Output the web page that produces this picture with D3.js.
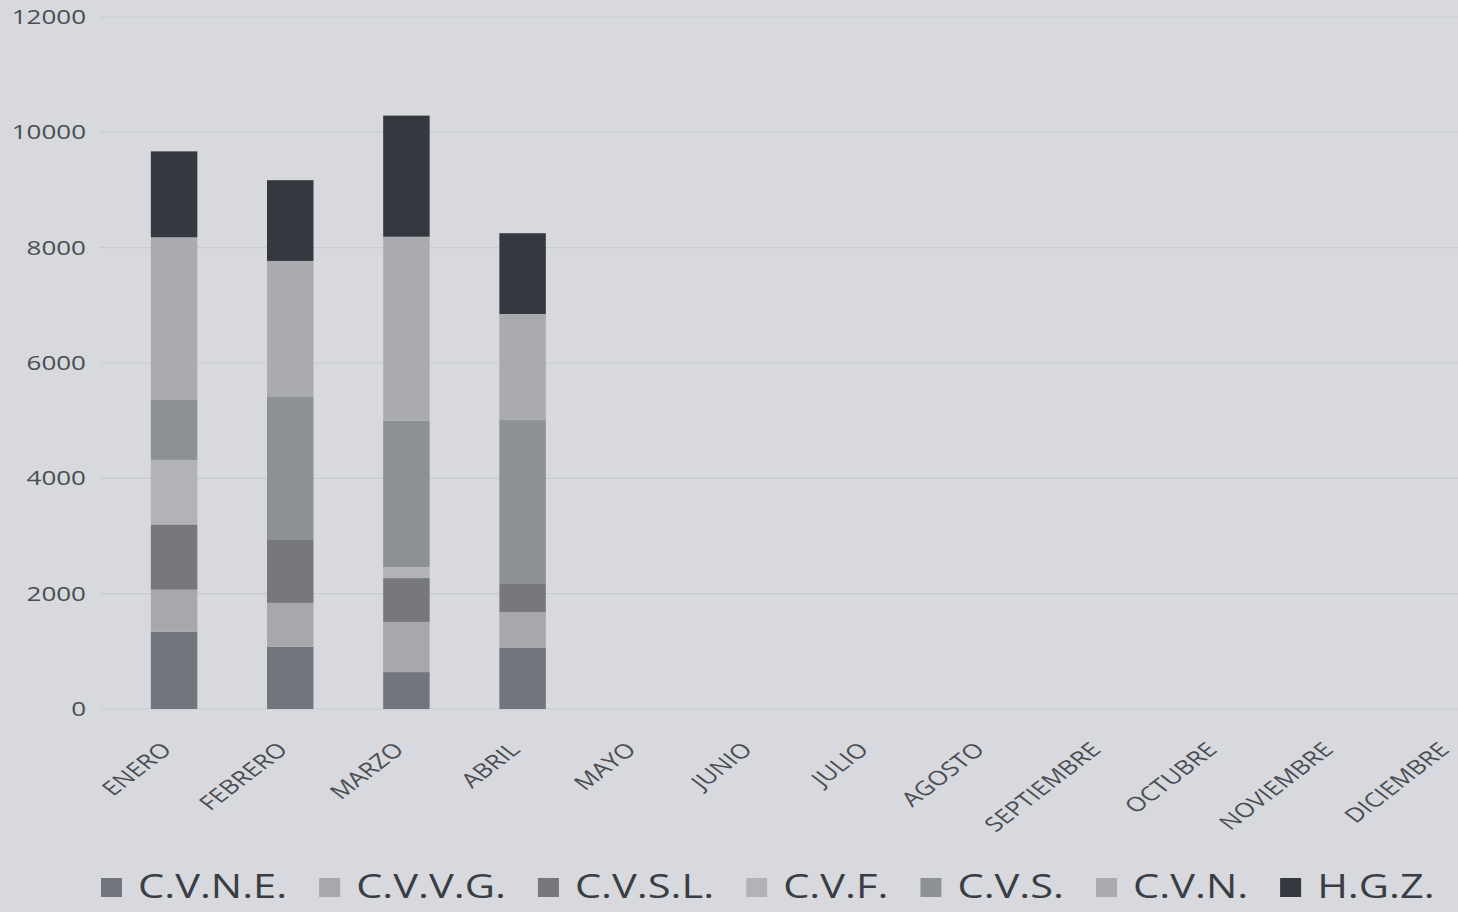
<!DOCTYPE html>
<html>
<head>
<meta charset="utf-8">
<script src="https://cdn.jsdelivr.net/npm/d3@7"></script>
<style>
  html, body { margin: 0; padding: 0; background: #d7d9df; }
  svg { display: block; }
</style>
</head>
<body>
<svg id="chart" width="1458" height="912"></svg>
<script>
const months = ["ENERO","FEBRERO","MARZO","ABRIL","MAYO","JUNIO","JULIO","AGOSTO","SEPTIEMBRE","OCTUBRE","NOVIEMBRE","DICIEMBRE"];
const seriesNames = ["C.V.N.E.","C.V.V.G.","C.V.S.L.","C.V.F.","C.V.S.","C.V.N.","H.G.Z."];
const cvne = [1340, 1080, 640, 1060];
const cvvg = [730, 760, 870, 620];
const cvsl = [1130, 1090, 760, 500];
const cvf  = [1120, 0, 190, 0];
const cvs  = [1040, 2480, 2540, 2830];
const cvn  = [2820, 2360, 3190, 1840];
const hgz  = [1490, 1400, 2100, 1400];
const yTicks = [0, 2000, 4000, 6000, 8000, 10000, 12000];
const colors = ["#72757b", "#a6a8ad", "#76787e", "#b1b3b8", "#8d9095", "#a9abb0", "#35383e"];

const seriesValues = [cvne, cvvg, cvsl, cvf, cvs, cvn, hgz];
const table = months.map((m, i) => {
  const row = { month: m };
  seriesNames.forEach((s, k) => { row[s] = seriesValues[k][i] != null ? seriesValues[k][i] : 0; });
  return row;
});

const svg = d3.select("#chart");
const SX = 1.3; // horizontal stretch of the scanned original

const x = d3.scaleBand().domain(months).range([116, 1510]).paddingInner(0.6).paddingOuter(0.3);
const y = d3.scaleLinear().domain([0, 12000]).range([709, 17]);

// gridlines
svg.append("g").selectAll("line").data(yTicks).join("line")
  .attr("x1", 100).attr("x2", 1458)
  .attr("y1", d => y(d)).attr("y2", d => y(d))
  .attr("stroke", "#c8cbd1").attr("stroke-width", 1.2);

// y tick labels
svg.append("g").selectAll("text").data(yTicks).join("text")
  .attr("transform", d => `translate(86,${y(d)}) scale(${SX},1)`)
  .attr("text-anchor", "end").attr("dy", "0.35em")
  .attr("font-family", "Open Sans").attr("font-size", 20)
  .attr("fill", "#4a4d52")
  .text(d => d);

// stacked bars
const stack = d3.stack().keys(seriesNames);
const layers = stack(table);
svg.append("g").selectAll("g").data(layers).join("g")
  .attr("fill", (d, i) => colors[i])
  .selectAll("rect").data(d => d).join("rect")
  .attr("x", d => x(d.data.month))
  .attr("width", x.bandwidth())
  .attr("y", d => y(d[1]))
  .attr("height", d => Math.max(0, y(d[0]) - y(d[1])));

// category labels
svg.append("g").selectAll("text").data(months).join("text")
  .attr("transform", d => `translate(${x(d) + x.bandwidth() / 2 - 14},${741}) scale(${SX},1) rotate(-45)`)
  .attr("text-anchor", "end").attr("dy", "0.7em")
  .attr("font-family", "Open Sans").attr("font-size", 20)
  .attr("fill", "#4a4d52")
  .text(d => d);

// legend
const lg = svg.append("g");
let lx = 101;
seriesNames.forEach((s, i) => {
  lg.append("rect").attr("x", lx).attr("y", 878).attr("width", 21).attr("height", 19).attr("fill", colors[i]);
  const t = lg.append("text")
    .attr("transform", `translate(${lx + 37},${887}) scale(${SX},1)`)
    .attr("dy", "0.35em")
    .attr("font-family", "Open Sans").attr("font-size", 32)
    .attr("fill", "#3a3d43")
    .text(s);
  const w = t.node().getComputedTextLength() * SX;
  lx = lx + 37 + w + 32;
});
</script>
</body>
</html>
